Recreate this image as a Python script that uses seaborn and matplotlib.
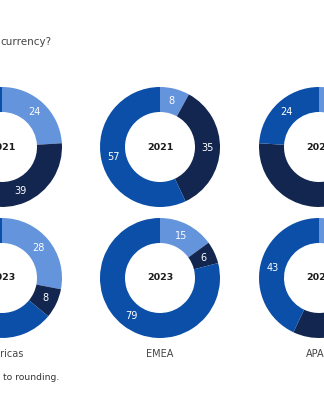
import matplotlib
matplotlib.use("Agg")
import matplotlib.pyplot as plt
import seaborn as sns
import numpy as np

# ---- data ----
regions = ["Americas", "EMEA", "APAC"]
years = ["2021", "2023"]
segment_order = ["light", "navy", "medium"]  # clockwise from 12 o'clock
americas_2021 = [24, 39, 37]
americas_2023 = [28, 8, 64]
emea_2021 = [8, 35, 57]
emea_2023 = [15, 6, 79]
apac_2021 = [10, 66, 24]
apac_2023 = [25, 32, 43]
title_text = "currency?"
footnote_text = "to rounding."

values = {
    ("Americas", "2021"): americas_2021,
    ("Americas", "2023"): americas_2023,
    ("EMEA", "2021"): emea_2021,
    ("EMEA", "2023"): emea_2023,
    ("APAC", "2021"): apac_2021,
    ("APAC", "2023"): apac_2023,
}

sns.set_theme(style="white")
plt.rcParams["font.family"] = ["DejaVu Sans"]

colors = ["#6494DC", "#13264F", "#0B4FA8"]

W, H = 324, 400
fig = plt.figure(figsize=(W / 100, H / 100), dpi=100)
ax = fig.add_axes([0, 0, 1, 1])

col_x = {"Americas": 2, "EMEA": 160, "APAC": 319}
row_y = {"2021": H - 147, "2023": H - 278}
R = 60
RW = 25

for reg in regions:
    for yr in years:
        vals = values[(reg, yr)]
        cx, cy = col_x[reg], row_y[yr]
        ax.pie(vals, colors=colors, startangle=90, counterclock=False,
               radius=R, center=(cx, cy),
               wedgeprops=dict(width=RW, edgecolor="none", linewidth=0))
        ax.text(cx, cy, yr, ha="center", va="center", fontsize=6.8,
                fontweight="bold", color="#1c1c1c")
        total = sum(vals)
        cum = 0
        rl = R - RW / 2
        for v in vals:
            mid = (cum + v / 2) / total * 360
            cum += v
            ang = np.deg2rad(90 - mid)
            ax.text(cx + rl * np.cos(ang), cy + rl * np.sin(ang), str(v),
                    ha="center", va="center", fontsize=7, color="white")
    ax.text(col_x[reg], H - 354, reg, ha="center", va="center",
            fontsize=7, color="#444444")

ax.text(0, H - 42, title_text, ha="left", va="center", fontsize=7.5,
        color="#444444")
ax.text(3, H - 377, footnote_text, ha="left", va="center", fontsize=6.6,
        color="#333333")

ax.set_xlim(0, W)
ax.set_ylim(0, H)
ax.set_aspect("auto")
ax.axis("off")
fig.savefig("out.png", dpi=100)
